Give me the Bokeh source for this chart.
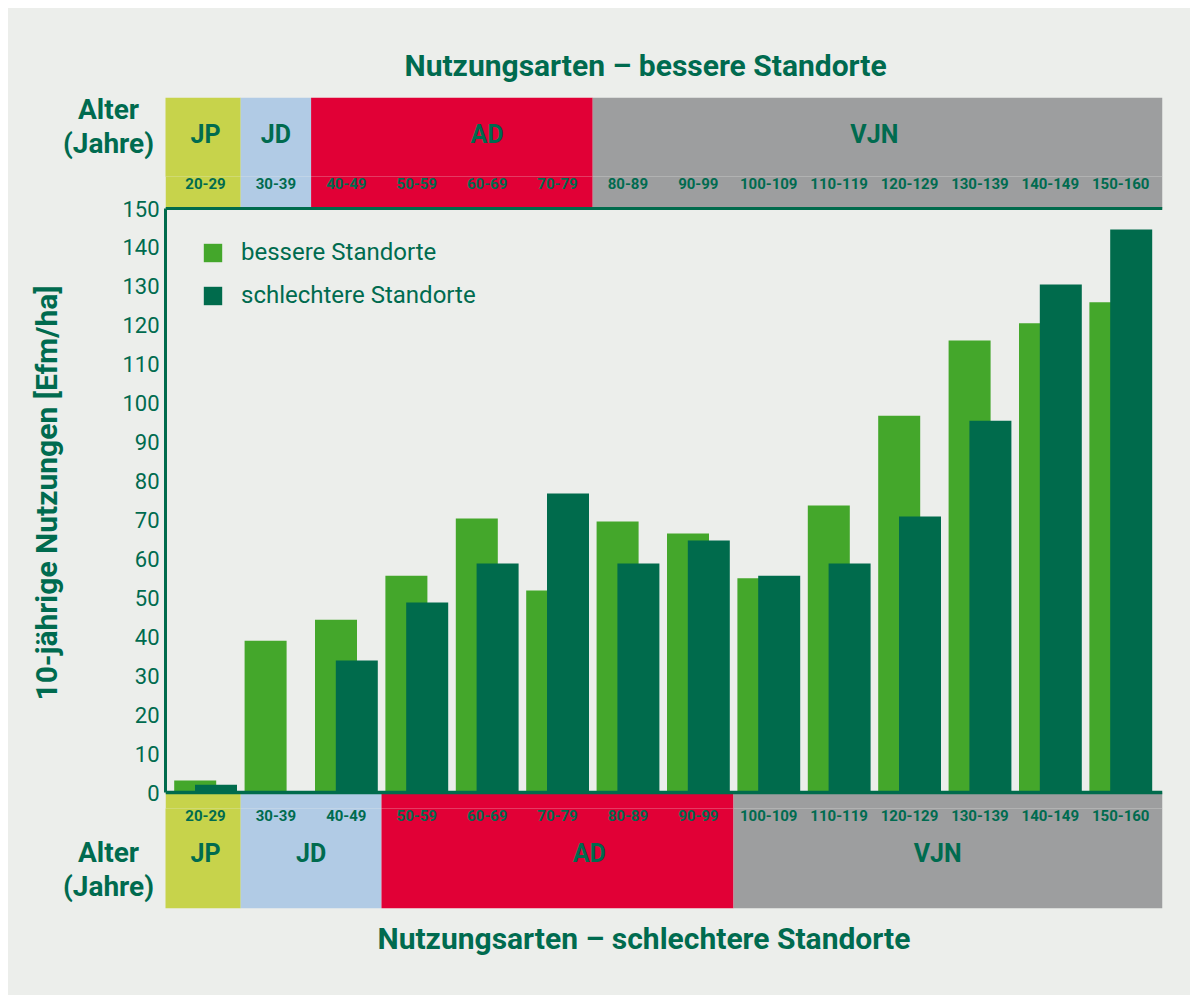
from bokeh.plotting import figure
from bokeh.layouts import column
from bokeh.models import (Range1d, FixedTicker, Span, Legend, LegendItem,
                          ColumnDataSource, Title)
from bokeh.embed import file_html
from bokeh.resources import INLINE
from bokeh.core.properties import value

# ---------------- data ----------------
age_classes = ["20-29", "30-39", "40-49", "50-59", "60-69", "70-79", "80-89",
               "90-99", "100-109", "110-119", "120-129", "130-139", "140-149", "150-160"]
better_sites = [3.1, 39.0, 44.4, 55.7, 70.4, 51.9, 69.6, 66.5, 55.0, 73.7, 96.8, 116.1, 120.5, 125.9]
worse_sites = [2.0, 0.0, 33.9, 48.8, 58.8, 76.8, 58.8, 64.7, 55.7, 58.8, 70.9, 95.5, 130.5, 144.6]

top_phases = ["JP", "JD", "AD", "VJN"]
top_phase_groups = [1, 1, 4, 8]          # age classes per phase (bessere Standorte)
bottom_phases = ["JP", "JD", "AD", "VJN"]
bottom_phase_groups = [1, 2, 5, 6]       # age classes per phase (schlechtere Standorte)
y_ticks = list(range(0, 151, 10))
side_label = ["Alter", "(Jahre)"]

# label anchors (in age-class units)
top_label_pos = [0, 1, 4, 9.5]
bottom_label_pos = [0, 1.5, 5.45, 10.4]

# ---------------- style ----------------
phase_colors = ["#c7d34b", "#b1cbe5", "#e10036", "#9d9e9f"]
TXT = "#006b4f"
LIGHT = "#44a72b"
DARK = "#006b4c"
BG = "#eceeeb"
FONT = "Roboto"

# page geometry (px); the layout starts at page (8, 8)
PX_X = 70.4            # pixels per age class
PX_Y = 584.0 / 150.0   # pixels per Efm/ha
X0_PX, Y0_PX = 205, 792          # page position of class 0 / value 0
W = 1182
LEFT, RIGHT = 165, 1162          # plot area left / right
TOP_BAND, BOT_BAND = 97, 908     # outer edges of the phase bands
CUT1, CUT2 = 176, 808            # seams between the stacked canvases (1px overlap each)
OVER = 10                        # bands run past the seams (clipped by the frame)

def xd(px):
    return (px - X0_PX) / PX_X

def yd(py):
    return (Y0_PX - py) / PX_Y

def make(height, x_left_px, y_top_px, y_bot_px, **kw):
    fig = figure(width=W, height=height, output_backend="svg", toolbar_location=None,
                 x_range=Range1d(xd(x_left_px), xd(RIGHT)),
                 y_range=Range1d(yd(y_bot_px), yd(y_top_px)),
                 x_axis_location=None, min_border_right=W + 8 - RIGHT, **kw)
    fig.frame_align = False
    fig.background_fill_color = BG
    fig.border_fill_color = BG
    fig.outline_line_color = None
    fig.grid.visible = False
    return fig

# top strip: page 8 .. CUT1+1 ; main: CUT1 .. CUT2+1 ; bottom strip: CUT2 .. 989
top = make(CUT1 + 1 - 8, 8, TOP_BAND, CUT1 + 1, y_axis_location=None,
           min_border_left=0, min_border_top=TOP_BAND - 8, min_border_bottom=0)
p = make(CUT2 + 1 - CUT1, LEFT, CUT1, CUT2 + 1,
         min_border_left=LEFT - 8, min_border_top=0, min_border_bottom=0,
         styles={"margin-top": "-1px"})
bot = make(989 - CUT2, 8, CUT2, BOT_BAND, y_axis_location=None,
           min_border_left=0, min_border_top=0, min_border_bottom=989 - BOT_BAND,
           styles={"margin-top": "-1px"})

def bands(groups):
    lefts, rights = [], []
    cum = 0
    for k, g in enumerate(groups):
        lefts.append(xd(LEFT) if k == 0 else cum - 0.5)
        cum += g
        rights.append(xd(RIGHT) if k == len(groups) - 1 else cum - 0.5)
    return lefts, rights

idx = list(range(len(age_classes)))
tl, tr = bands(top_phase_groups)
bl, br = bands(bottom_phase_groups)
# top phase band (split over top strip and main canvas)
top.quad(left=tl, right=tr, bottom=yd(CUT1 + OVER), top=yd(TOP_BAND),
         fill_color=phase_colors, line_color=None)
p.quad(left=tl, right=tr, bottom=150, top=yd(CUT1 - OVER),
       fill_color=phase_colors, line_color=None)
# bottom phase band (split over main canvas and bottom strip)
p.quad(left=bl, right=br, bottom=yd(CUT2 + OVER), top=0,
       fill_color=phase_colors, line_color=None)
bot.quad(left=bl, right=br, bottom=yd(BOT_BAND), top=yd(CUT2 - OVER),
         fill_color=phase_colors, line_color=None)

def txt(fig, xs, ys, texts, size):
    fig.text(x=xs, y=ys, text=texts, text_align="center", text_baseline="middle",
             text_font=value(FONT), text_font_style="bold",
             text_font_size=size, text_color=TXT)

txt(p, idx, [yd(183)] * len(idx), age_classes, "15px")
txt(bot, idx, [yd(815)] * len(idx), age_classes, "15px")
txt(top, top_label_pos, [yd(134)] * 4, top_phases, "25px")
txt(bot, bottom_label_pos, [yd(853)] * 4, bottom_phases, "25px")
txt(top, [xd(108)] * 2, [yd(109), yd(143)], side_label, "28px")
txt(bot, [xd(108)] * 2, [yd(852), yd(886)], side_label, "28px")

# ----- bars -----
BAR_W = 42 / PX_X
src = ColumnDataSource(dict(
    xb=[i - 10.3 / PX_X for i in idx], xw=[i + 10.5 / PX_X for i in idx],
    better=better_sites, worse=worse_sites))
r1 = p.vbar(x="xb", top="better", bottom=0, width=BAR_W, source=src,
            fill_color=LIGHT, line_color=None)
r2 = p.vbar(x="xw", top="worse", bottom=0, width=BAR_W, source=src,
            fill_color=DARK, line_color=None)

# ----- frame lines -----
p.add_layout(Span(location=150, dimension="width", line_color=DARK, line_width=3))
p.add_layout(Span(location=0, dimension="width", line_color=DARK, line_width=3.5))

# ----- y axis -----
yax = p.yaxis[0]
yax.ticker = FixedTicker(ticks=y_ticks)
yax.bounds = (0, 150)
yax.axis_line_color = DARK
yax.axis_line_width = 3
yax.major_tick_line_color = None
yax.minor_tick_line_color = None
yax.major_label_standoff = 0
yax.major_label_text_font = FONT
yax.major_label_text_font_size = "22px"
yax.major_label_text_color = TXT
yax.axis_label = "10-jährige Nutzungen [Efm/ha]"
yax.axis_label_text_font = FONT
yax.axis_label_text_font_style = "bold"
yax.axis_label_text_font_size = "30px"
yax.axis_label_text_color = TXT
yax.axis_label_standoff = 55

# ----- legend -----
legend = Legend(items=[LegendItem(label="bessere Standorte", renderers=[r1]),
                       LegendItem(label="schlechtere Standorte", renderers=[r2])],
                location=(36, CUT2 + 1 - 309), orientation="vertical",
                glyph_width=23, glyph_height=23, label_height=18,
                label_standoff=17, spacing=15, padding=0, margin=0,
                label_text_font=FONT, label_text_font_size="24px",
                label_text_color=TXT, border_line_color=None,
                background_fill_alpha=0)
p.add_layout(legend)

# ----- titles -----
top.add_layout(Title(text="Nutzungsarten – bessere Standorte", align="left", offset=404 - 8,
                     standoff=29, text_font=FONT, text_font_style="bold",
                     text_font_size="30px", text_color=TXT), "above")
bot.add_layout(Title(text="Nutzungsarten – schlechtere Standorte", align="left", offset=377 - 8,
                     standoff=21, text_font=FONT, text_font_style="bold",
                     text_font_size="30px", text_color=TXT), "below")

layout = column(top, p, bot, spacing=0)
html = file_html(layout, INLINE)
# white page margin around a chart-coloured box behind the stacked canvases
css = ("<style>html{background:#ffffff}"
       "body{padding:8px 10px 2px 8px !important;background:%s;background-clip:content-box}</style>" % BG)
html = html.replace("</head>", css + "</head>", 1)
open("out.html", "w").write(html)
